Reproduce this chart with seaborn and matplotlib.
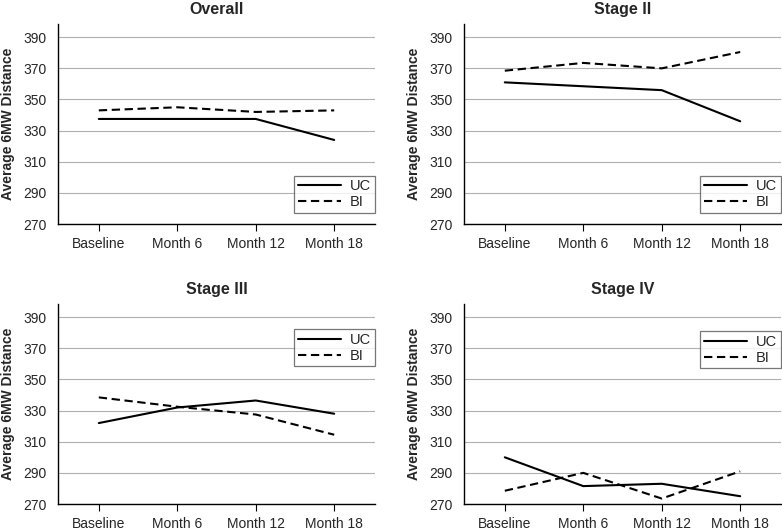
import pandas as pd
import seaborn as sns
import matplotlib.pyplot as plt

# --- data ---
visits = ["Baseline", "Month 6", "Month 12", "Month 18"]
panels = ["Overall", "Stage II", "Stage III", "Stage IV"]

uc_overall = [337.5, 337.5, 337.5, 324]
bi_overall = [343, 345, 342, 343]
uc_stage2 = [361, 358.5, 356, 336]
bi_stage2 = [368.5, 373.5, 370, 380.5]
uc_stage3 = [322, 332, 336.5, 328]
bi_stage3 = [338.5, 332.5, 327.5, 314.5]
uc_stage4 = [300, 281.5, 283, 275]
bi_stage4 = [278.5, 290, 273.5, 291]

uc_all = [uc_overall, uc_stage2, uc_stage3, uc_stage4]
bi_all = [bi_overall, bi_stage2, bi_stage3, bi_stage4]

rows = []
for p, uc, bi in zip(panels, uc_all, bi_all):
    for i, v in enumerate(visits):
        rows.append({"Panel": p, "Visit": v, "x": i, "Group": "UC", "Distance": uc[i]})
        rows.append({"Panel": p, "Visit": v, "x": i, "Group": "BI", "Distance": bi[i]})
df = pd.DataFrame(rows)

# legend placement per panel (loc, anchor in axes coords)
legend_pos = {"Overall": ("lower right", (1.0, 0.055)),
              "Stage II": ("lower right", (1.0, 0.055)),
              "Stage III": ("upper right", (1.0, 0.875)),
              "Stage IV": ("upper right", (1.0, 0.865))}

sns.set_style("white")
plt.rcParams["font.family"] = ["Liberation Sans", "DejaVu Sans"]

fig = plt.figure(figsize=(7.82, 5.32), dpi=100)
W, H = 782, 532
boxes = [(58, 24, 375, 224), (464, 24, 781, 224),
         (58, 304, 375, 504), (464, 304, 781, 504)]

for p, (x0, y0, x1, y1) in zip(panels, boxes):
    ax = fig.add_axes([x0 / W, 1 - y1 / H, (x1 - x0) / W, (y1 - y0) / H])
    sub = df[df["Panel"] == p]
    sns.lineplot(data=sub, x="x", y="Distance", style="Group",
                 style_order=["UC", "BI"], dashes={"UC": "", "BI": (4, 2.2)},
                 color="black", linewidth=1.5, ax=ax)
    ax.set_xlim(-0.52, 3.52)
    ax.set_ylim(270, 398.5)
    ax.set_yticks(range(270, 391, 20))
    ax.set_xticks(range(4))
    ax.set_xticklabels(visits)
    ax.yaxis.grid(True, color="#b0b0b0", linewidth=0.8)
    ax.set_axisbelow(True)
    sns.despine(ax=ax)
    for s in ["left", "bottom"]:
        ax.spines[s].set_color("black")
        ax.spines[s].set_linewidth(1.0)
    ax.tick_params(axis="x", length=5, width=0.8, color="black", labelsize=10, pad=4, bottom=True)
    ax.tick_params(axis="y", length=0, labelsize=10, pad=8)
    ax.set_xlabel("")
    ax.set_ylabel("Average 6MW Distance", fontsize=10, fontweight="bold", labelpad=6)
    ax.set_title(p, fontsize=11.5, fontweight="bold", pad=7)
    loc, anchor = legend_pos[p]
    leg = ax.legend(loc=loc, bbox_to_anchor=anchor, fontsize=10.5, frameon=True,
                    fancybox=False, handlelength=3.0, borderaxespad=0.0,
                    borderpad=0.25, labelspacing=0.15, handletextpad=0.6)
    leg.get_frame().set_edgecolor("#555555")
    leg.get_frame().set_linewidth(0.9)

fig.savefig("out.png", dpi=100)
